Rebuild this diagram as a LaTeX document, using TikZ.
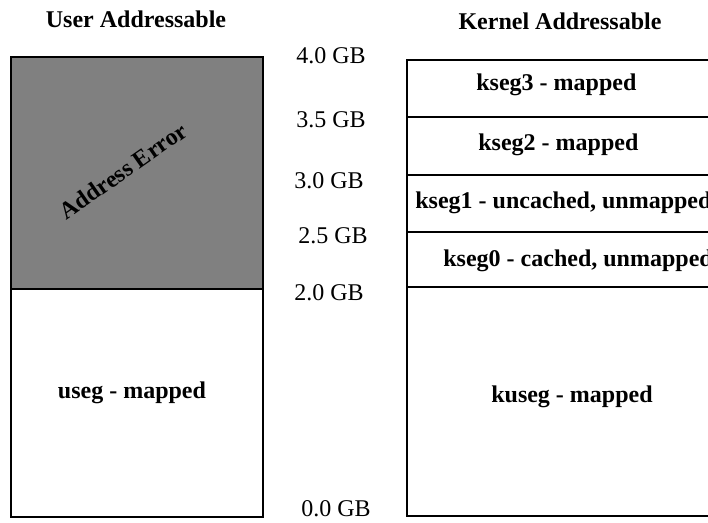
\documentclass[tikz,border=0pt]{standalone}
\usepackage{fontspec}
\setmainfont{Liberation Serif}
\usetikzlibrary{calc}
\definecolor{errgray}{RGB}{128,128,128}
\tikzset{
    seg/.style={draw=black, line width=1.3pt},
    seglabel/.style={font=\fontsize{12}{14}\selectfont\bfseries, inner sep=0pt},
    gblabel/.style={font=\fontsize{12}{14}\selectfont, inner sep=0pt}
}

\begin{document}
\begin{tikzpicture}[x=0.5pt, y=-0.5pt]
            \useasboundingbox (0,0) rectangle (708,523);
            \clip (0,0) rectangle (708,523);
            % user side
            \coordinate (UserTop) at (11,57);
            \coordinate (UserMid) at (263,289);
            \coordinate (UserBot) at (263,517);
            \fill[errgray] (UserTop) rectangle (UserMid);
            \draw[seg] (UserTop) rectangle (UserBot);
            \draw[seg] (UserTop |- UserMid) -- (UserMid);
            \node[seglabel] (UserHead) at (136,19) {User Addressable};
            \node[seglabel, rotate=35] (AddrErr) at (123,171) {Address Error};
            \node[seglabel] (Useg) at (132,393) {useg - mapped};

            % kernel side
            \coordinate (KernTop) at (407,60);
            \coordinate (KernBot) at (716,516);
            \draw[seg] (KernTop) rectangle (KernBot);
            \foreach \y in {117,175,232,287}
                \draw[seg] (407,\y) -- (716,\y);
            \node[seglabel] (KernHead) at (560,21) {Kernel Addressable};
            \node[seglabel, anchor=west] (Kseg3) at (476,85) {kseg3 - mapped};
            \node[seglabel, anchor=west] (Kseg2) at (478,145) {kseg2 - mapped};
            \node[seglabel, anchor=west] (Kseg1) at (415,203) {kseg1 - uncached, unmapped};
            \node[seglabel, anchor=west] (Kseg0) at (443,261) {kseg0 - cached, unmapped};
            \node[seglabel] (Kuseg) at (572,397) {kuseg - mapped};

            % address marks
            \node[gblabel] (Gb40) at (331,56) {4.0 GB};
            \node[gblabel] (Gb35) at (331,120) {3.5 GB};
            \node[gblabel] (Gb30) at (329,181) {3.0 GB};
            \node[gblabel] (Gb25) at (333,236) {2.5 GB};
            \node[gblabel] (Gb20) at (329,293) {2.0 GB};
            \node[gblabel] (Gb00) at (336,509) {0.0 GB};
\end{tikzpicture}
\end{document}
